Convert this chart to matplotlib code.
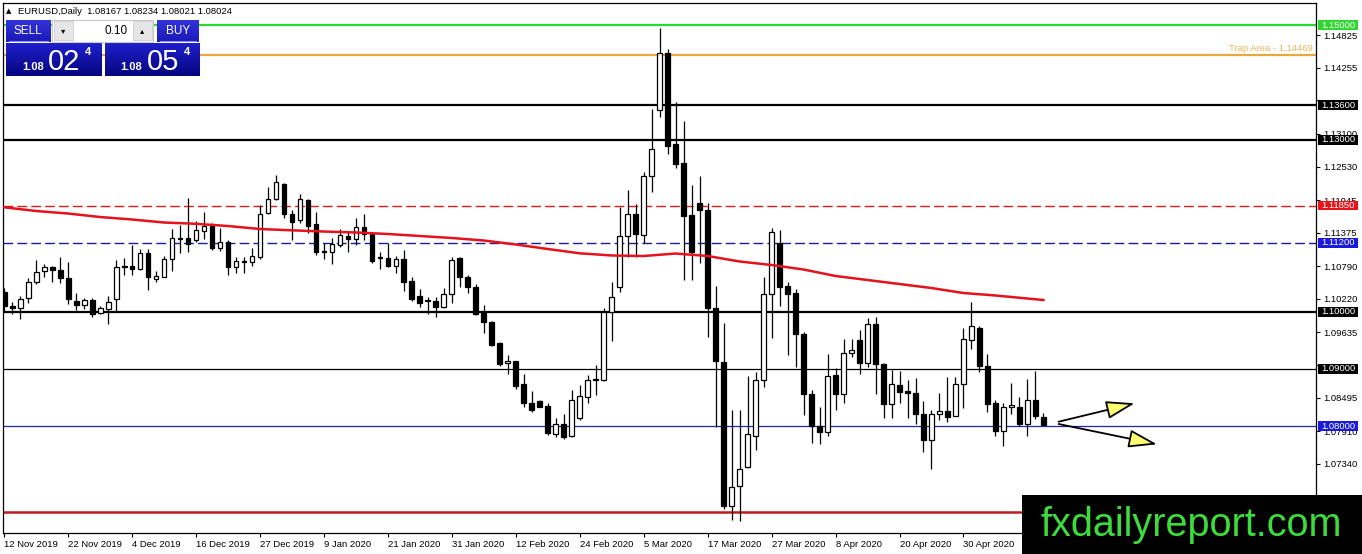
import numpy as np
import matplotlib.pyplot as plt
from matplotlib.patches import Rectangle

plt.rcParams['font.family'] = ['Liberation Sans', 'DejaVu Sans']

# EURUSD daily candles, 12 Nov 2019 .. 14 May 2020
opens = [1.1034, 1.1009, 1.1006, 1.1023, 1.1051, 1.1070, 1.1078, 1.1072, 1.1058, 1.1018,
         1.1012, 1.1020, 1.0997, 1.1005, 1.1021, 1.1080, 1.1080, 1.1075, 1.1102, 1.1056,
         1.1061, 1.1091, 1.1129, 1.1128, 1.1125, 1.1141, 1.1149, 1.1111, 1.1122, 1.1078,
         1.1089, 1.1087, 1.1096, 1.1172, 1.1196, 1.1223, 1.1170, 1.1159, 1.1195, 1.1153,
         1.1105, 1.1104, 1.1116, 1.1131, 1.1126, 1.1147, 1.1136, 1.1095, 1.1093, 1.1080,
         1.1091, 1.1053, 1.1027, 1.1020, 1.1019, 1.1008, 1.1030, 1.1093, 1.1060, 1.1043,
         1.1000, 1.0982, 1.0945, 1.0910, 1.0914, 1.0873, 1.0841, 1.0843, 1.0835, 1.0787,
         1.0804, 1.0783, 1.0814, 1.0851, 1.0880, 1.0881, 1.1000, 1.1043, 1.1132, 1.1171,
         1.1133, 1.1236, 1.1352, 1.1452, 1.1292, 1.1259, 1.1168, 1.1189, 1.1178, 1.1007,
         1.0912, 1.0661, 1.0696, 1.0728, 1.0783, 1.0880, 1.1030, 1.1119, 1.1044, 1.1032,
         1.0960, 1.0856, 1.0801, 1.0790, 1.0889, 1.0856, 1.0928, 1.0950, 1.0910, 1.0979,
         1.0908, 1.0838, 1.0872, 1.0861, 1.0857, 1.0822, 1.0776, 1.0821, 1.0827, 1.0818,
         1.0873, 1.0951, 1.0971, 1.0905, 1.0840, 1.0792, 1.0833, 1.0834, 1.0804, 1.0845,
         1.08167]
highs = [1.1041, 1.1017, 1.1027, 1.1058, 1.1090, 1.1083, 1.1080, 1.1096, 1.1086, 1.1032,
         1.1024, 1.1024, 1.1009, 1.1027, 1.1090, 1.1093, 1.1116, 1.1109, 1.1109, 1.1070,
         1.1097, 1.1144, 1.1151, 1.1198, 1.1158, 1.1174, 1.1154, 1.1145, 1.1125, 1.1096,
         1.1096, 1.1110, 1.1186, 1.1218, 1.1238, 1.1224, 1.1178, 1.1205, 1.1196, 1.1174,
         1.1119, 1.1128, 1.1144, 1.1138, 1.1163, 1.1171, 1.1139, 1.1103, 1.1119, 1.1097,
         1.1107, 1.1060, 1.1039, 1.1026, 1.1025, 1.1041, 1.1096, 1.1095, 1.1064, 1.1048,
         1.1011, 1.0984, 1.0946, 1.0924, 1.0914, 1.0891, 1.0862, 1.0846, 1.0840, 1.0814,
         1.0821, 1.0863, 1.0872, 1.0889, 1.0907, 1.1006, 1.1052, 1.1183, 1.1212, 1.1187,
         1.1244, 1.1353, 1.1494, 1.1458, 1.1366, 1.1333, 1.1221, 1.1236, 1.1190, 1.1044,
         1.0980, 1.0829, 1.0828, 1.0888, 1.0895, 1.1060, 1.1145, 1.1143, 1.1052, 1.1040,
         1.0965, 1.0863, 1.0834, 1.0926, 1.0901, 1.0952, 1.0952, 1.0968, 1.0988, 1.0990,
         1.0910, 1.0898, 1.0897, 1.0881, 1.0884, 1.0844, 1.0828, 1.0858, 1.0886, 1.0885,
         1.0971, 1.1016, 1.0975, 1.0926, 1.0846, 1.0840, 1.0876, 1.0850, 1.0883, 1.0897,
         1.08234]
lows = [1.0999, 1.0996, 1.0987, 1.1014, 1.1048, 1.1061, 1.1052, 1.1050, 1.1013, 1.1003,
        1.1005, 1.0991, 1.0995, 1.0979, 1.1000, 1.1064, 1.1064, 1.1073, 1.1038, 1.1052,
        1.1060, 1.1070, 1.1102, 1.1104, 1.1122, 1.1127, 1.1107, 1.1106, 1.1064, 1.1068,
        1.1068, 1.1080, 1.1092, 1.1171, 1.1194, 1.1163, 1.1124, 1.1155, 1.1137, 1.1099,
        1.1091, 1.1083, 1.1112, 1.1103, 1.1116, 1.1125, 1.1085, 1.1074, 1.1078, 1.1068,
        1.1035, 1.1019, 1.1008, 1.0996, 1.0991, 1.1006, 1.1015, 1.1042, 1.1032, 1.0994,
        1.0963, 1.0939, 1.0905, 1.0891, 1.0864, 1.0833, 1.0825, 1.0833, 1.0784, 1.0781,
        1.0777, 1.0781, 1.0811, 1.0840, 1.0855, 1.0878, 1.0949, 1.1034, 1.1095, 1.1095,
        1.1120, 1.1209, 1.1339, 1.1275, 1.1250, 1.1055, 1.1055, 1.1084, 1.0955, 1.0799,
        1.0655, 1.0636, 1.0635, 1.0727, 1.0758, 1.0869, 1.0953, 1.1009, 1.0924, 1.0904,
        1.0819, 1.0771, 1.0768, 1.0783, 1.0829, 1.0840, 1.0920, 1.0891, 1.0903, 1.0856,
        1.0815, 1.0814, 1.0841, 1.0815, 1.0804, 1.0755, 1.0726, 1.0811, 1.0808, 1.0817,
        1.0832, 1.0934, 1.0895, 1.0825, 1.0783, 1.0766, 1.0822, 1.0800, 1.0783, 1.0812,
        1.08021]
closes = [1.1010, 1.1007, 1.1021, 1.1051, 1.1069, 1.1077, 1.1072, 1.1058, 1.1021, 1.1011,
          1.1020, 1.0996, 1.1006, 1.1016, 1.1077, 1.1077, 1.1075, 1.1102, 1.1060, 1.1062,
          1.1092, 1.1128, 1.1127, 1.1117, 1.1142, 1.1149, 1.1111, 1.1121, 1.1078, 1.1088,
          1.1087, 1.1097, 1.1171, 1.1197, 1.1226, 1.1170, 1.1157, 1.1196, 1.1150, 1.1104,
          1.1103, 1.1118, 1.1133, 1.1126, 1.1147, 1.1135, 1.1089, 1.1093, 1.1080, 1.1092,
          1.1052, 1.1022, 1.1015, 1.1018, 1.1008, 1.1031, 1.1090, 1.1060, 1.1042, 1.0996,
          1.0981, 1.0942, 1.0908, 1.0914, 1.0870, 1.0840, 1.0828, 1.0834, 1.0788, 1.0803,
          1.0781, 1.0846, 1.0852, 1.0881, 1.0882, 1.1000, 1.1026, 1.1132, 1.1171, 1.1135,
          1.1236, 1.1283, 1.1452, 1.1289, 1.1257, 1.1167, 1.1103, 1.1178, 1.1007, 1.0913,
          1.0661, 1.0693, 1.0726, 1.0786, 1.0880, 1.1031, 1.1139, 1.1043, 1.1031, 1.0961,
          1.0856, 1.0800, 1.0790, 1.0888, 1.0856, 1.0928, 1.0932, 1.0911, 1.0979, 1.0908,
          1.0838, 1.0873, 1.0860, 1.0857, 1.0822, 1.0776, 1.0822, 1.0827, 1.0816, 1.0873,
          1.0952, 1.0975, 1.0905, 1.0838, 1.0792, 1.0833, 1.0837, 1.0804, 1.0845, 1.0817,
          1.08024]

# moving average (red line), sampled every 4 bars
ma_bar = [0, 4, 8, 12, 16, 20, 24, 28, 32, 36, 40, 44, 48, 52, 56, 60, 64, 68, 72, 76,
          80, 84, 88, 92, 96, 100, 104, 108, 112, 116, 120, 124, 128, 130]
ma_val = [1.11819, 1.11754, 1.11710, 1.11649, 1.11606, 1.11553, 1.11531, 1.11492, 1.11440,
          1.11417, 1.11396, 1.11379, 1.11353, 1.11318, 1.11283, 1.11239, 1.11170, 1.11091,
          1.11016, 1.10978, 1.10969, 1.11012, 1.10969, 1.10873, 1.10812, 1.10733, 1.10620,
          1.10550, 1.10480, 1.10410, 1.10323, 1.10280, 1.10227, 1.10201]

x_labels = ['12 Nov 2019', '22 Nov 2019', '4 Dec 2019', '16 Dec 2019', '27 Dec 2019',
            '9 Jan 2020', '21 Jan 2020', '31 Jan 2020', '12 Feb 2020', '24 Feb 2020',
            '5 Mar 2020', '17 Mar 2020', '27 Mar 2020', '8 Apr 2020', '20 Apr 2020',
            '30 Apr 2020']

y_ticks = [1.14825, 1.14255, 1.13685, 1.13100, 1.12530, 1.11945, 1.11375, 1.10790,
           1.10220, 1.09635, 1.09065, 1.08495, 1.07910, 1.07340, 1.06770]
# labels that sit fully under a price box or the watermark stay blank
hidden_ticks = [1.13685, 1.09065, 1.06770]

# horizontal levels
levels = [1.15000, 1.14469, 1.13600, 1.13000, 1.11850, 1.11200, 1.10000, 1.09000, 1.08000, 1.06500]
level_colors = ['#2ed82e', '#e8a93c', 'black', 'black', '#dd1c1c', '#1c1c96', 'black', 'black', '#2424b4', '#c01a20']
level_styles = ['-', '-', '-', '-', (0, (7, 3)), (0, (7, 3)), '-', '-', '-', '-']
level_widths = [1.6, 1.6, 1.6, 1.6, 1.0, 1.0, 1.6, 0.9, 0.9, 1.8]
level_boxes = ['#2ed82e', None, 'black', 'black', '#e8141a', '#1a1ad8', 'black', 'black', '#1a1ad8', None]

fig = plt.figure(figsize=(13.62, 5.54), dpi=100)
ax = fig.add_axes([3 / 1362, 21 / 554, 1313 / 1362, 530 / 554])

for lv, col, ls, lw in zip(levels, level_colors, level_styles, level_widths):
    ax.axhline(lv, color=col, ls=ls, lw=lw, zorder=1)

ax.text(0.9975, levels[1] + 0.0004, 'Trap Area - 1.14469', transform=ax.get_yaxis_transform(),
        ha='right', va='bottom', fontsize=6.8, color='#f0b454')

# candles
o = np.array(opens)
h = np.array(highs)
l = np.array(lows)
c = np.array(closes)
idx = np.arange(len(o))
up = c >= o
bottom = np.minimum(o, c)
height = np.maximum(np.abs(c - o), 0.00007)
ax.vlines(idx, l, h, color='black', lw=0.9, zorder=3)
ax.bar(idx[up], height[up], bottom=bottom[up], width=0.6, facecolor='white',
       edgecolor='black', lw=0.9, zorder=4)
ax.bar(idx[~up], height[~up], bottom=bottom[~up], width=0.6, facecolor='black',
       edgecolor='black', lw=0.9, zorder=4)

ax.plot(ma_bar, ma_val, color='#e4121c', lw=1.8, zorder=5)

# arrows drawn on the chart
arrow_starts = [(131.9, 1.08077), (131.9, 1.08037)]
arrow_tips = [(141.4, 1.08398), (144.2, 1.07683)]
for s, t in zip(arrow_starts, arrow_tips):
    ax.annotate('', xy=t, xytext=s, zorder=6,
                arrowprops=dict(arrowstyle='-|>,head_length=1.1,head_width=0.35',
                                fc='#ffff70', ec='black', lw=1.3, mutation_scale=16,
                                shrinkA=0, shrinkB=0))

ax.set_xlim(-0.15, 164.1)
ax.set_ylim(1.06135, 1.15384)

ax.set_xticks(np.arange(len(x_labels)) * 8)
ax.set_xticklabels(x_labels, ha='left')
ax.set_yticks(y_ticks)
ax.set_yticklabels(['' if v in hidden_ticks else '%.5f' % v for v in y_ticks])
ax.yaxis.tick_right()
ax.tick_params(axis='both', labelsize=6.8, length=3, width=0.8, pad=2, colors='black')
for sp in ax.spines.values():
    sp.set_linewidth(0.9)

# price boxes on the right scale
for lv, bc in zip(levels, level_boxes):
    if bc is None:
        continue
    ax.add_patch(Rectangle((1.0015, lv - 0.00087), 0.0305, 0.00174, transform=ax.get_yaxis_transform(),
                           facecolor=bc, edgecolor='none', clip_on=False, zorder=10))
    ax.text(1.0168, lv, '%.5f' % lv, transform=ax.get_yaxis_transform(), ha='center', va='center',
            fontsize=6.8, color='white', clip_on=False, zorder=11)

# overlay in pixel coordinates: header, trade panel, watermark
ov = fig.add_axes([0, 0, 1, 1])
ov.set_zorder(5)
ov.patch.set_visible(False)
ov.axis('off')

ov.text(6, 11, '▲', fontsize=5, va='center', ha='left', family=['DejaVu Sans'])
ov.text(18, 11, 'EURUSD,Daily  1.08167 1.08234 1.08021 1.08024', fontsize=6.8, va='center', ha='left')


def grad_box(x0, y0, x1, y1, top, bot):
    g = np.linspace(0, 1, 50)[:, None, None]
    img = np.array(top)[None, None, :] * (1 - g) + np.array(bot)[None, None, :] * g
    ov.imshow(img, extent=(x0, x1, y1, y0), aspect='auto', zorder=2)


grad_box(6, 20, 51, 42, (0.20, 0.20, 0.86), (0.10, 0.10, 0.72))
grad_box(157, 20, 199, 42, (0.20, 0.20, 0.86), (0.10, 0.10, 0.72))
grad_box(6, 43, 101.5, 76, (0.12, 0.12, 0.80), (0.02, 0.02, 0.50))
grad_box(104.5, 43, 199, 76, (0.12, 0.12, 0.80), (0.02, 0.02, 0.50))
ov.plot([9, 48], [41, 41], color='#8a8ae8', lw=0.8, zorder=3)
ov.plot([160, 196], [41, 41], color='#8a8ae8', lw=0.8, zorder=3)
ov.add_patch(Rectangle((52, 19.5), 101, 22, facecolor='white', edgecolor='#c8c8c8', lw=0.8, zorder=2))
ov.add_patch(Rectangle((53.5, 21), 19, 19, facecolor='#e6e6e6', edgecolor='#cfcfcf', lw=0.6, zorder=3))
ov.add_patch(Rectangle((133, 21), 19, 19, facecolor='#e6e6e6', edgecolor='#cfcfcf', lw=0.6, zorder=3))
ov.text(63, 31, '▾', fontsize=6, ha='center', va='center', family=['DejaVu Sans'], zorder=4)
ov.text(142.5, 31, '▴', fontsize=6, ha='center', va='center', family=['DejaVu Sans'], zorder=4)
ov.text(128, 31, '0.10', fontsize=8.5, ha='right', va='center', zorder=4)
ov.text(28, 31, 'SELL', fontsize=8.5, ha='center', va='center', color='white', zorder=4)
ov.text(178, 31, 'BUY', fontsize=8.5, ha='center', va='center', color='white', zorder=4)
for bx, big in [(0, '02'), (98.5, '05')]:
    ov.text(22 + bx, 70, '1.08', fontsize=8, fontweight='bold', ha='left', va='baseline', color='white', zorder=4)
    ov.text(48 + bx, 70, big, fontsize=21, ha='left', va='baseline', color='white', zorder=4)
    ov.text(85 + bx, 55, '4', fontsize=8, fontweight='bold', ha='left', va='baseline', color='white', zorder=4)

ov.add_patch(Rectangle((1022, 495), 340, 59, facecolor='black', edgecolor='none', zorder=5))
ov.text(1191, 536, 'fxdailyreport.com', fontsize=28.5, color='#3ddc3d', ha='center', va='baseline', zorder=6)

ov.set_xlim(0, 1362)
ov.set_ylim(554, 0)

fig.savefig('out.png', dpi=100, facecolor='white')
